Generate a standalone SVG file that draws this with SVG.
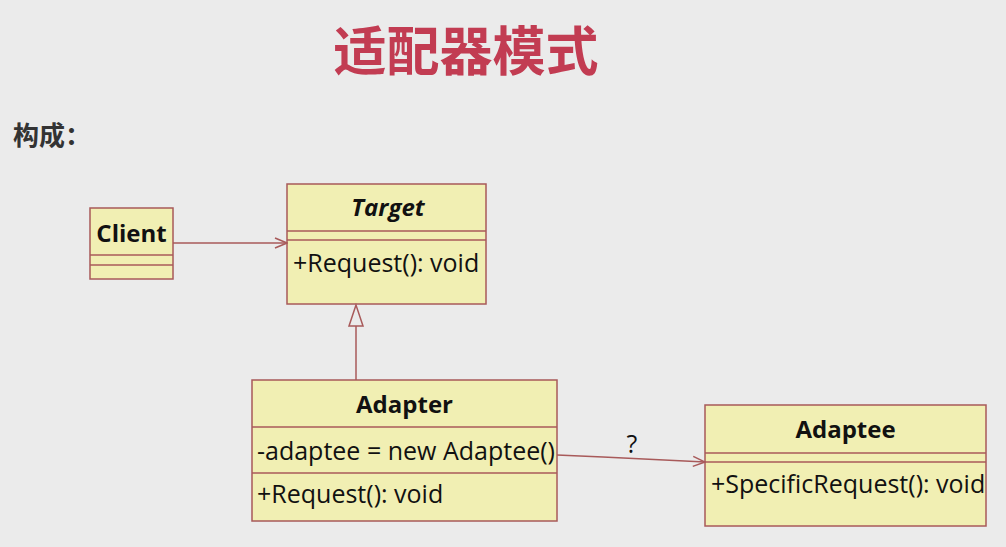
<svg xmlns="http://www.w3.org/2000/svg" width="1006" height="547" viewBox="0 0 1006 547">
<defs>
<style>
.box{fill:#f1efb3;stroke:#a85a5a;stroke-width:1.5}
.sep{stroke:#a85a5a;stroke-width:1.5}
.t{font-family:"Open Sans","Noto Sans",sans-serif;font-size:25px;fill:#111}
.b{font-weight:bold;font-size:24px}
.c{stroke:#a85a5a;stroke-width:1.5;fill:none}
</style>
<marker id="open" markerWidth="14" markerHeight="12" refX="13" refY="6" orient="auto" markerUnits="userSpaceOnUse">
<path d="M1,1 L13,6 L1,11" fill="none" stroke="#a85a5a" stroke-width="1.5"/>
</marker>
</defs>
<rect width="1006" height="547" fill="#ebebeb"/>
<text x="466" y="71" text-anchor="middle" font-family="'Noto Sans CJK SC',sans-serif" font-size="53" font-weight="bold" fill="#c23c52">适配器模式</text>
<text x="13" y="145" font-family="'Noto Sans CJK SC',sans-serif" font-size="26" font-weight="bold" fill="#333">构成：</text>
<g id="client">
<rect class="box" x="90" y="208" width="83" height="71"/>
<line class="sep" x1="90" y1="255" x2="173" y2="255"/>
<line class="sep" x1="90" y1="265" x2="173" y2="265"/>
<text class="t b" x="131.5" y="242" text-anchor="middle">Client</text>
</g>
<g id="target">
<rect class="box" x="287" y="184" width="199" height="120"/>
<line class="sep" x1="287" y1="231" x2="486" y2="231"/>
<line class="sep" x1="287" y1="240" x2="486" y2="240"/>
<text class="t b" x="388" y="216" text-anchor="middle" font-style="italic">Target</text>
<text class="t" x="293" y="272">+Request(): void</text>
</g>
<g id="adapter">
<rect class="box" x="252" y="380" width="305" height="141"/>
<line class="sep" x1="252" y1="427" x2="557" y2="427"/>
<line class="sep" x1="252" y1="473" x2="557" y2="473"/>
<text class="t b" x="404.5" y="413" text-anchor="middle">Adapter</text>
<text class="t" x="257" y="460">-adaptee = new Adaptee()</text>
<text class="t" x="257" y="503">+Request(): void</text>
</g>
<g id="adaptee">
<rect class="box" x="705" y="405" width="281" height="121"/>
<line class="sep" x1="705" y1="453" x2="986" y2="453"/>
<line class="sep" x1="705" y1="462" x2="986" y2="462"/>
<text class="t b" x="845.5" y="438" text-anchor="middle">Adaptee</text>
<text class="t" x="711" y="493">+SpecificRequest(): void</text>
</g>
<g id="connectors">
<line class="c" x1="173" y1="243" x2="287" y2="243" marker-end="url(#open)"/>
<line class="c" x1="356" y1="380" x2="356" y2="326"/>
<path class="c" d="M356,305 L349,326 L363,326 Z" fill="#ebebeb"/>
<polyline class="c" points="557,455 603,457 705,462" marker-end="url(#open)"/>
<text class="t" x="632" y="453" text-anchor="middle" font-size="22">?</text>
</g>
</svg>
